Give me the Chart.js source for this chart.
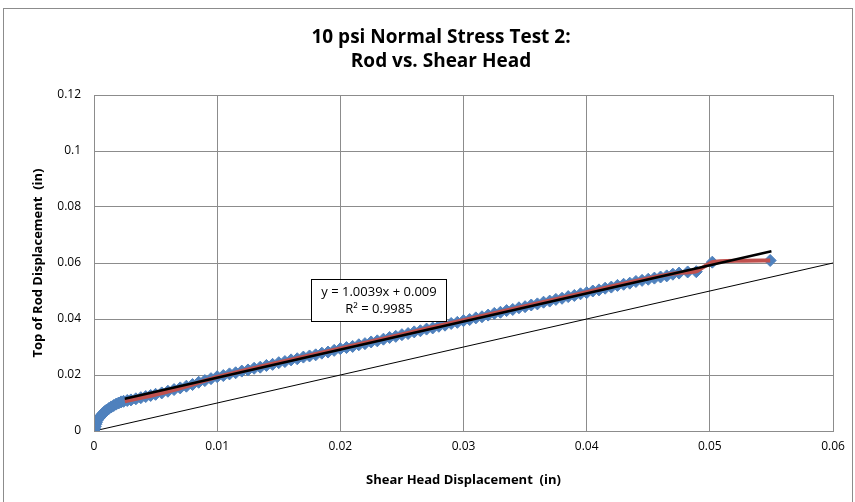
<!DOCTYPE html>
<html>
<head>
<meta charset="utf-8">
<script src="https://cdn.jsdelivr.net/npm/chart.js@4.4.0/dist/chart.umd.min.js"></script>
<style>
  html, body { margin: 0; padding: 0; background: #fff; }
  #wrap { width: 855px; height: 502px; }
</style>
</head>
<body>
<div id="wrap"><canvas id="chart" width="855" height="502"></canvas></div>
<script>
const shearHead = [0, 0.00005, 0.0001, 0.00015, 0.0002, 0.0003, 0.0004, 0.0005, 0.0006, 0.0007, 0.0008, 0.0009, 0.001,
  0.0012, 0.0014, 0.0016, 0.0018, 0.002, 0.0022, 0.0024, 0.0027, 0.003, 0.0034, 0.0038, 0.0042, 0.0046,
  0.005, 0.0055, 0.006, 0.0065, 0.007, 0.0075, 0.008, 0.0085, 0.009, 0.0095,
  0.01, 0.0105, 0.011, 0.0115, 0.012, 0.0125, 0.013, 0.0135, 0.014, 0.0145,
  0.015, 0.0155, 0.016, 0.0165, 0.017, 0.0175, 0.018, 0.0185, 0.019, 0.0195,
  0.02, 0.0205, 0.021, 0.0215, 0.022, 0.0225, 0.023, 0.0235, 0.024, 0.0245,
  0.025, 0.0255, 0.026, 0.0265, 0.027, 0.0275, 0.028, 0.0285, 0.029, 0.0295,
  0.03, 0.0305, 0.031, 0.0315, 0.032, 0.0325, 0.033, 0.0335, 0.034, 0.0345,
  0.035, 0.0355, 0.036, 0.0365, 0.037, 0.0375, 0.038, 0.0385, 0.039, 0.0395,
  0.04, 0.0405, 0.041, 0.0415, 0.042, 0.0425, 0.043, 0.0435, 0.044, 0.0445,
  0.045, 0.0455, 0.046, 0.0465, 0.047, 0.0475, 0.0482, 0.0489, 0.0502, 0.0549];
const topOfRod = [0, 0.0008, 0.0016, 0.0024, 0.0031, 0.004, 0.0046, 0.0051, 0.0056, 0.0061, 0.0066, 0.007, 0.0074,
  0.008, 0.0086, 0.0091, 0.0096, 0.01, 0.0104, 0.0106, 0.0109, 0.0111, 0.0115, 0.0119, 0.0123, 0.0127,
  0.0131, 0.0136, 0.0142, 0.0148, 0.0154, 0.016, 0.0166, 0.0174, 0.018, 0.0187,
  0.0194, 0.0198, 0.0204, 0.0208, 0.0214, 0.0218, 0.0224, 0.0228, 0.0234, 0.0238,
  0.0244, 0.0248, 0.0254, 0.0258, 0.0264, 0.0268, 0.0272, 0.0278, 0.0282, 0.0288,
  0.0294, 0.0298, 0.0302, 0.0308, 0.0312, 0.0318, 0.0322, 0.0328, 0.0334, 0.0338,
  0.0344, 0.0348, 0.0354, 0.0358, 0.0364, 0.0368, 0.0374, 0.0378, 0.0384, 0.0388,
  0.0394, 0.0398, 0.0404, 0.0408, 0.0414, 0.042, 0.0424, 0.043, 0.0434, 0.044,
  0.0444, 0.045, 0.0454, 0.046, 0.0464, 0.047, 0.0474, 0.048, 0.0484, 0.049,
  0.0494, 0.05, 0.0504, 0.051, 0.0514, 0.052, 0.0524, 0.0528, 0.0534, 0.0538,
  0.0542, 0.0546, 0.055, 0.0554, 0.056, 0.0564, 0.0568, 0.0569, 0.0603, 0.0609];

// red smoothed line
const avgX = [0.0025, 0.004, 0.006, 0.008, 0.01, 0.015, 0.02, 0.025, 0.03, 0.035, 0.04, 0.044, 0.047, 0.0485, 0.049, 0.0502, 0.0525, 0.0549];
const avgY = [0.0106, 0.012, 0.0141, 0.0166, 0.0193, 0.0245, 0.0295, 0.0345, 0.0396, 0.0446, 0.0496, 0.0536, 0.0562, 0.0568, 0.0572, 0.0603, 0.0608, 0.0609];

// linear trend y = 1.0039x + 0.009
const trendX = [0.0025, 0.055];
const trendY = [0.0115, 0.0642];

// 1:1 line
const oneToOneX = [0, 0.06];
const oneToOneY = [0, 0.06];

const xTicks = [0, 0.01, 0.02, 0.03, 0.04, 0.05, 0.06];
const yTicks = [0, 0.02, 0.04, 0.06, 0.08, 0.1, 0.12];

const titleLines = ['10 psi Normal Stress Test 2:', 'Rod vs. Shear Head'];
const eqLines = ['y = 1.0039x + 0.009', 'R\u00b2 = 0.9985'];

const FONT = '"Open Sans", sans-serif';

function pts(xs, ys) {
    return xs.map((x, i) => ({ x: x, y: ys[i] }));
}

const decorPlugin = {
    id: 'decor',
    beforeDraw(chart) {
        const ctx = chart.ctx;
        ctx.save();
        ctx.fillStyle = '#fff';
        ctx.fillRect(0, 0, chart.width, chart.height);
        ctx.strokeStyle = '#8c8c8c';
        ctx.lineWidth = 1;
        ctx.strokeRect(3.5, 8.5, 849, 510);
        ctx.restore();
    },
    afterDraw(chart) {
        const ctx = chart.ctx;
        const a = chart.chartArea;
        ctx.save();
        // title
        ctx.fillStyle = '#000';
        ctx.textAlign = 'center';
        ctx.textBaseline = 'middle';
        ctx.font = 'bold 19px ' + FONT;
        ctx.fillText(titleLines[0], 441, 38);
        ctx.fillText(titleLines[1], 441, 62);

        // equation box
        ctx.font = '13px ' + FONT;
        ctx.fillStyle = '#fff';
        ctx.fillRect(311, 279, 136, 43);
        ctx.strokeStyle = '#000';
        ctx.lineWidth = 1;
        ctx.strokeRect(311.5, 279.5, 135, 42);
        ctx.fillStyle = '#000';
        ctx.fillText(eqLines[0], 379, 292);
        ctx.fillText(eqLines[1], 379, 309);

        // plot border
        ctx.strokeStyle = '#8c8c8c';
        ctx.strokeRect(a.left + 0.5, a.top + 0.5, a.right - a.left, a.bottom - a.top);
        ctx.restore();
    }
};

new Chart(document.getElementById('chart'), {
    type: 'scatter',
    data: {
        datasets: [
            {
                label: 'Trend',
                data: pts(trendX, trendY),
                showLine: true,
                borderColor: '#000',
                borderWidth: 2.5,
                pointRadius: 0,
                order: 0
            },
            {
                label: 'Average',
                data: pts(avgX, avgY),
                showLine: true,
                borderColor: '#C0504D',
                borderWidth: 4,
                pointRadius: 0,
                tension: 0.2,
                order: 1
            },
            {
                label: 'Rod vs. Shear Head',
                data: pts(shearHead, topOfRod),
                backgroundColor: '#4F81BD',
                borderColor: '#4F81BD',
                borderWidth: 1,
                pointStyle: 'rectRot',
                pointRadius: 6,
                order: 2
            },
            {
                label: '1:1',
                data: pts(oneToOneX, oneToOneY),
                showLine: true,
                borderColor: '#000',
                borderWidth: 1,
                pointRadius: 0,
                order: 3
            }
        ]
    },
    options: {
        responsive: false,
        animation: false,
        layout: { padding: { top: 95, right: 22, left: 30, bottom: 14 } },
        plugins: {
            legend: { display: false },
            tooltip: { enabled: false },
            title: { display: false }
        },
        scales: {
            x: {
                type: 'linear',
                min: 0,
                max: 0.06,
                afterBuildTicks: s => { s.ticks = xTicks.map(v => ({ value: v })); },
                afterFit: s => { s.height = 502 - 431 - 14; },
                grid: { color: '#8c8c8c', drawTicks: false },
                border: { color: '#8c8c8c' },
                ticks: {
                    padding: 8,
                    color: '#000',
                    font: { family: FONT, size: 12 },
                    callback: v => String(+v.toFixed(2))
                },
                title: {
                    display: true,
                    text: 'Shear Head Displacement  (in)',
                    color: '#000',
                    font: { family: FONT, size: 13, weight: 'bold' },
                    padding: { top: 4, bottom: 0 }
                }
            },
            y: {
                type: 'linear',
                min: 0,
                max: 0.12,
                afterBuildTicks: s => { s.ticks = yTicks.map(v => ({ value: v })); },
                afterFit: s => { s.width = 94 - 30; },
                grid: { color: '#8c8c8c', drawTicks: false },
                border: { color: '#8c8c8c' },
                ticks: {
                    padding: 13,
                    color: '#000',
                    font: { family: FONT, size: 12 },
                    callback: v => String(+v.toFixed(2))
                },
                title: {
                    display: true,
                    text: 'Top of Rod Displacement  (in)',
                    color: '#000',
                    font: { family: FONT, size: 13, weight: 'bold' },
                    padding: { top: 0, bottom: 4 }
                }
            }
        }
    },
    plugins: [decorPlugin]
});
</script>
</body>
</html>
